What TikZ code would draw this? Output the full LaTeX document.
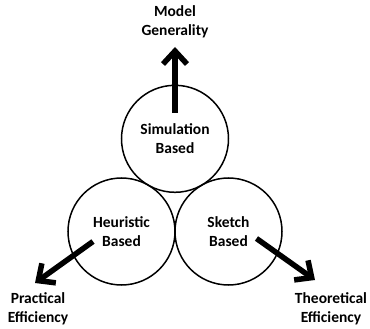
\documentclass[tikz,border=0pt]{standalone}
\usepackage{fontspec}
\setmainfont{Carlito}
\usepackage{xcolor}
\usepackage{tikz}
\usetikzlibrary{arrows.meta, positioning, calc}
\definecolor{inkblack}{HTML}{000000}

\begin{document}
\begin{tikzpicture}[x=1pt, y=-1pt,
  approach/.style={circle, draw=inkblack, line width=1.5pt, minimum size=107pt,
    inner sep=0pt, align=center, font=\bfseries\fontsize{15.5}{18.5}\selectfont},
  goal/.style={align=center, font=\bfseries\fontsize{15.5}{18.5}\selectfont},
  trend/.style={-{Straight Barb[length=13pt, width=24pt, line width=5.5pt]},
    line width=5.5pt, inkblack, line join=miter}]
  \useasboundingbox (0,0) rectangle (370,329);
  % the three approaches
  \node[approach] (sim) at (175,138.8) {Simulation\\Based};
  \node[approach] (heur) at (121.5,231.5) {Heuristic\\Based};
  \node[approach] (sketch) at (228.5,231.5) {Sketch\\Based};
  % what each one favours
  \node[goal] (general) at (175,22) {Model\\Generality};
  \node[goal] (practical) at (38,309) {Practical\\Efficiency};
  \node[goal] (theory) at (331,309) {Theoretical\\Efficiency};
  \coordinate (simTail) at (175,113);
  \coordinate (simTip) at (175,47);
  \coordinate (heurTail) at (93,241.5);
  \coordinate (heurTip) at (35,283);
  \coordinate (sketchTail) at (256.5,238.5);
  \coordinate (sketchTip) at (315,280);
  \foreach \a/\b in {simTail/simTip, heurTail/heurTip, sketchTail/sketchTip} {
    \draw[trend] (\a) -- (\b);
  }
\end{tikzpicture}
\end{document}
